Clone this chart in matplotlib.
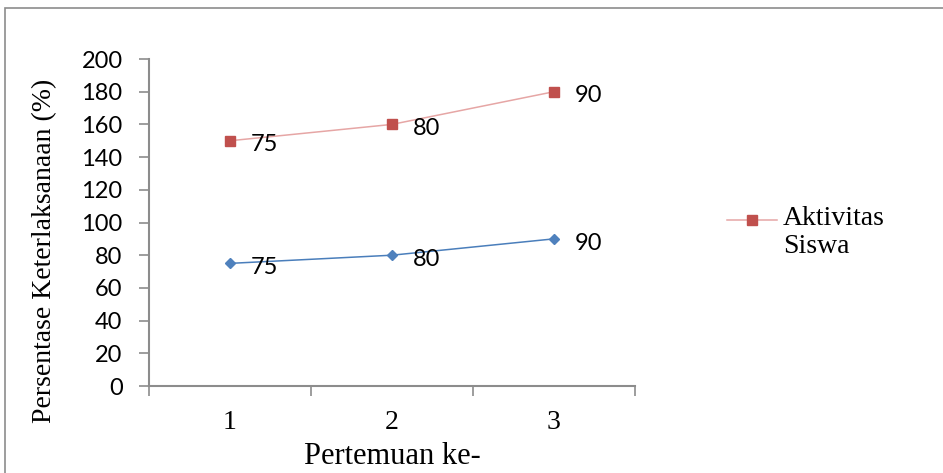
import matplotlib.pyplot as plt
from matplotlib.lines import Line2D
from matplotlib.patches import Rectangle

# data
pertemuan = [1, 2, 3]
pertemuan_labels = ['1', '2', '3']
guru = [75, 80, 90]
siswa = [75, 80, 90]
yticks = [0, 20, 40, 60, 80, 100, 120, 140, 160, 180, 200]

serif = 'Liberation Serif'
sans = 'Lato'
gray = '#8c8c8c'

fig = plt.figure(figsize=(9.43, 4.73), dpi=100)
ax = fig.add_axes([149 / 943, 1 - 386 / 473, 486 / 943, 327 / 473])

# stacked line chart (excel style)
stacked = [g + s for g, s in zip(guru, siswa)]
ax.plot(pertemuan, guru, color='#4a7ebb', lw=1.1, marker='D', markersize=5,
        markerfacecolor='#4f81bd', markeredgecolor='#4f81bd')
ax.plot(pertemuan, stacked, color='#e6a6a5', lw=1.1, marker='s', markersize=6.5,
        markerfacecolor='#c0504d', markeredgecolor='#c0504d')

for x, y, v in zip(pertemuan, guru, guru):
    ax.annotate(str(v), (x, y), xytext=(15, -3), textcoords='offset points',
                ha='left', va='center', fontsize=17, family=sans)
for x, y, v in zip(pertemuan, stacked, siswa):
    ax.annotate(str(v), (x, y), xytext=(15, -3), textcoords='offset points',
                ha='left', va='center', fontsize=17, family=sans)

ax.set_xlim(0.5, 3.5)
ax.set_ylim(0, 200)
ax.set_yticks(yticks)
ax.set_yticklabels([str(t) for t in yticks], fontsize=17, family=sans)
ax.set_xticks([0.5, 1.5, 2.5, 3.5])
ax.set_xticklabels([])
ax.set_xticks(pertemuan, minor=True)
ax.set_xticklabels(pertemuan_labels, minor=True, fontsize=20, family=serif)
ax.tick_params(axis='x', which='major', length=7, color=gray, width=1.2)
ax.tick_params(axis='x', which='minor', length=0, pad=17)
ax.tick_params(axis='y', length=7, color=gray, width=1.2, pad=12)

for s in ['top', 'right']:
    ax.spines[s].set_visible(False)
for s in ['left', 'bottom']:
    ax.spines[s].set_color(gray)
    ax.spines[s].set_linewidth(1.5)

ax.set_xlabel('Pertemuan ke-', fontsize=22, family=serif, labelpad=5)
ax.set_ylabel('Persentase Keterlaksanaan (%)', fontsize=20, family=serif)
ax.yaxis.set_label_coords(-0.19, 0.413)

# legend (only siswa series shown)
fig.add_artist(Line2D([727 / 943, 777 / 943], [1 - 220 / 473] * 2, color='#e6a6a5', lw=1.1,
                      transform=fig.transFigure))
fig.add_artist(Line2D([752 / 943], [1 - 220 / 473], marker='s', markersize=6.5, color='#c0504d',
                      transform=fig.transFigure))
fig.text(783 / 943, 1 - 206 / 473, 'Aktivitas\nSiswa', fontsize=20, family=serif,
         va='top', ha='left', linespacing=1.15, transform=fig.transFigure)

# chart border
fig.add_artist(Rectangle((5 / 943, -0.1), 1.2, 1 - 8 / 473 + 0.1, fill=False,
                         edgecolor=gray, lw=1.2, transform=fig.transFigure))

fig.savefig('out.png', dpi=100)
